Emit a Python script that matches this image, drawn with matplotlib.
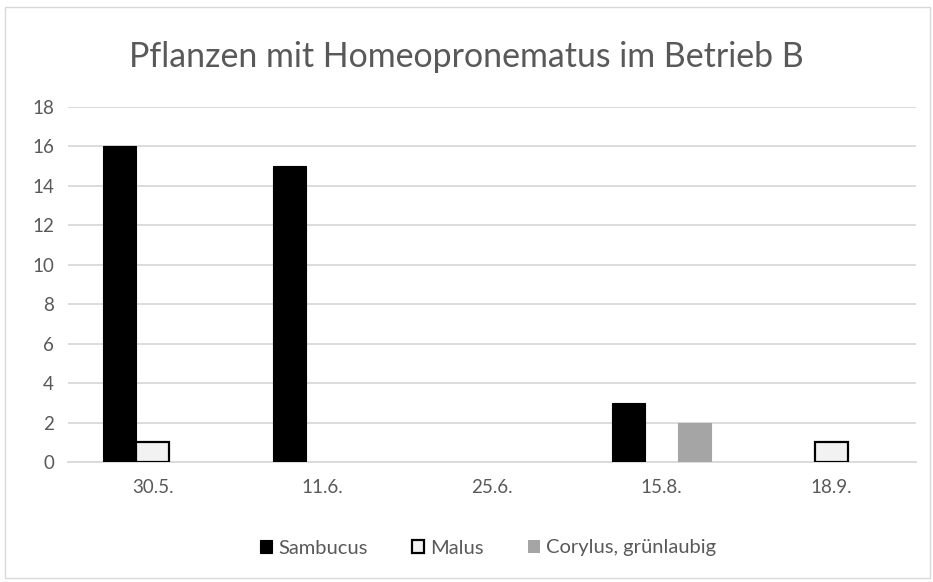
import matplotlib
matplotlib.use("Agg")
import matplotlib.pyplot as plt
import numpy as np
from matplotlib.patches import Rectangle

categories = ["30.5.", "11.6.", "25.6.", "15.8.", "18.9."]
sambucus = [16, 15, 0, 3, 0]
malus = [1, 0, 0, 0, 1]
corylus = [0, 0, 0, 2, 0]
series_names = ["Sambucus", "Malus", "Corylus, grünlaubig"]

plt.rcParams['font.family'] = ['Lato', 'DejaVu Sans']
fig = plt.figure(figsize=(9.33, 5.82), dpi=100)
ax = fig.add_axes([68/933, 1-462/582, (916-68)/933, (462-107)/582])

x = np.arange(len(categories))
w = 0.195

def lw(vals, width):
    return [width if v > 0 else 0 for v in vals]

ax.bar(x - w, sambucus, w, color='black', edgecolor='black', linewidth=lw(sambucus, 0.8),
       label=series_names[0], zorder=3)
ax.bar(x, malus, w, color='#F2F2F2', edgecolor='black', linewidth=lw(malus, 1.6),
       label=series_names[1], zorder=3)
ax.bar(x + w, corylus, w, color='#A5A5A5', edgecolor='#A5A5A5', linewidth=lw(corylus, 0.8),
       label=series_names[2], zorder=3)

ax.set_xlim(-0.5, len(categories) - 0.5)
ax.set_ylim(0, 18)
ax.set_yticks(range(0, 19, 2))
ax.set_xticks(x)
ax.set_xticklabels(categories)
ax.yaxis.grid(True, color='#D9D9D9', linewidth=1.3, zorder=0)
ax.set_axisbelow(True)
for s in ['top', 'right', 'left']:
    ax.spines[s].set_visible(False)
ax.spines['bottom'].set_color('#D9D9D9')
ax.spines['bottom'].set_linewidth(1.3)
ax.tick_params(axis='both', length=0, labelsize=13.5, labelcolor='#595959', pad=10)
ax.tick_params(axis='x', pad=12)

fig.text(0.5, 1 - 57/582, "Pflanzen mit Homeopronematus im Betrieb B", ha='center', va='center',
         fontsize=24.4, color='#595959')

leg = fig.legend(loc='center', bbox_to_anchor=(488/933, 1 - 548/582), ncol=3, frameon=False,
                 fontsize=14.5, labelcolor='#595959', handlelength=0.6, handleheight=0.6,
                 handletextpad=0.3, columnspacing=2.2)
leg.legend_handles[1].set_linewidth(1.6)

fig.patches.append(Rectangle((5/933, 4/582), 925/933, 571/582, transform=fig.transFigure,
                             fill=False, edgecolor='#D9D9D9', linewidth=1))

fig.savefig("out.png", dpi=100)
